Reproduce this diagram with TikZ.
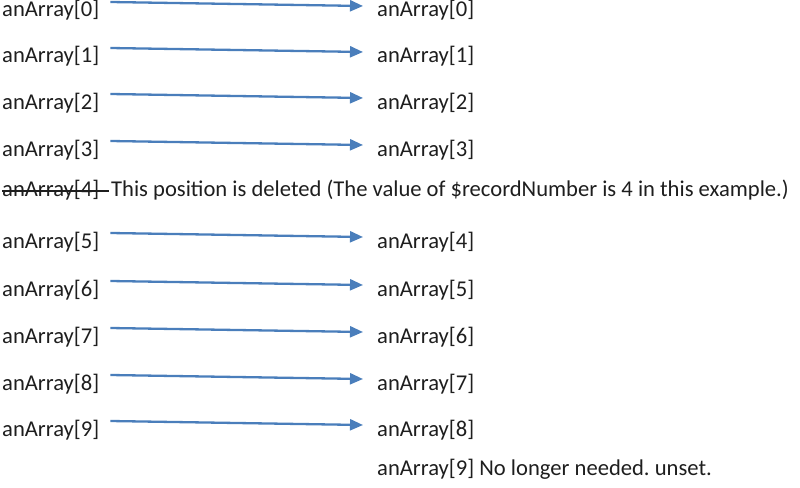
\documentclass[tikz,border=0pt]{standalone}
\usepackage{fontspec}
\setmainfont{Carlito}
\frenchspacing
\usetikzlibrary{arrows.meta}
\definecolor{txt}{RGB}{30,30,30}
\definecolor{arrblue}{RGB}{74,126,187}
\begin{document}
\begin{tikzpicture}[x=1pt,y=-1pt,
  lbl/.style={inner sep=0pt,anchor=base west,text=txt,font=\fontsize{22.6}{27}\selectfont},
  conn/.style={draw=arrblue,line width=2.3pt,-{Triangle[length=13pt,width=11pt]}},
  strike/.style={draw=txt,line width=1.4pt}]
\useasboundingbox (0,0) rectangle (800,487);
% left column
\foreach \i/\y in {0/17,1/63,2/109,3/156,4/196,5/248,6/296,7/343,8/390,9/436}
  \node[lbl] (l\i) at (2,\y) {anArray[\i]};
% deleted note
\node[lbl] (d4) at (111,196) {This position is deleted (The value of \$recordNumber is 4 in this example.)};
\draw[strike] ([yshift=5pt]l4.base west) -- ([yshift=5pt,xshift=-2pt]d4.base west);
% right column
\foreach \i/\k/\y in {0/0/17,1/1/63,2/2/109,3/3/156,5/4/248,6/5/296,7/6/343,8/7/390,9/8/436}
  \node[lbl] (r\i) at (377,\y) {anArray[\k]};
\node[lbl] (r10) at (377,475) {anArray[9] No longer needed. unset.};
% connectors
\foreach \i in {0,1,2,3,5,6,7,8,9}
  \draw[conn] ([shift={(11,-15)}]l\i.base east) -- ([shift={(-14,-11)}]r\i.base west);
\end{tikzpicture}
\end{document}
